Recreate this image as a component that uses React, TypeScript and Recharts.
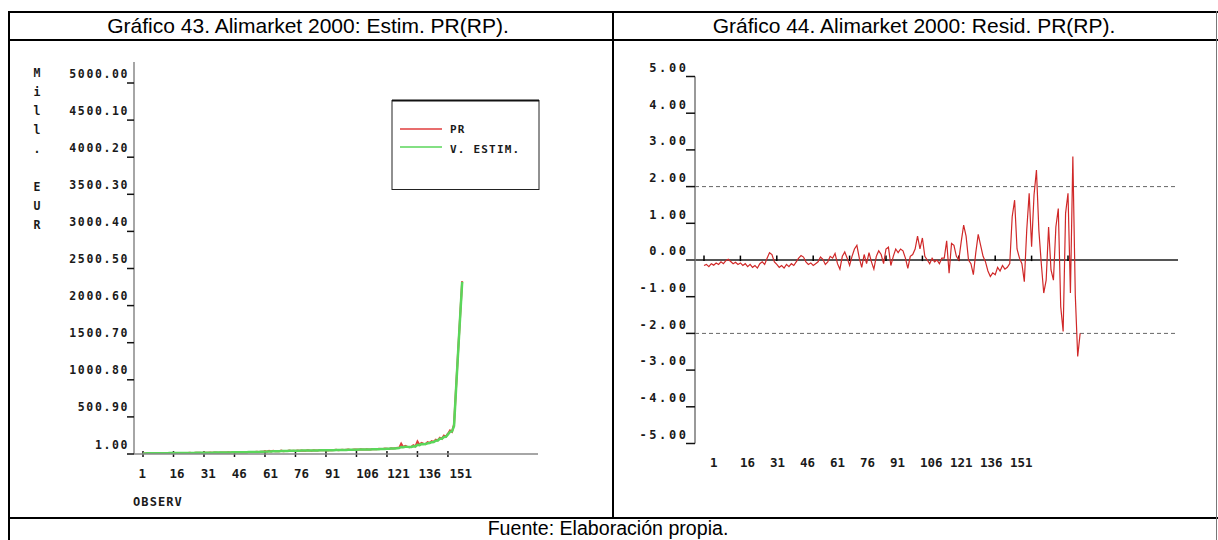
import React from 'react';
import { LineChart, Line, XAxis, YAxis, ReferenceLine, Legend } from 'recharts';

const MONO = '"DejaVu Sans Mono", "Liberation Mono", monospace';
const SANS = '"Liberation Sans", Arial, sans-serif';

const leftTitle = 'Gráfico 43. Alimarket 2000: Estim. PR(RP).';
const rightTitle = 'Gráfico 44. Alimarket 2000: Resid. PR(RP).';
const footer = 'Fuente: Elaboración propia.';
const yTitleLetters = ['M', 'i', 'l', 'l', '.', '', 'E', 'U', 'R'];
const xTitle = 'OBSERV';

const obsTicks = [1, 16, 31, 46, 61, 76, 91, 106, 121, 136, 151];
const leftYTicks = [1.0, 500.9, 1000.8, 1500.7, 2000.6, 2500.5, 3000.4, 3500.3, 4000.2, 4500.1, 5000.0];
const rightYTicks = [5, 4, 3, 2, 1, 0, -1, -2, -3, -4, -5];
const seriesNames = ['PR', 'V. ESTIM.'];

const PR = [
  8, 9, 10, 9, 11, 10, 12, 11, 10, 12, 13, 12, 11, 13, 14,
  13, 14, 15, 14, 16, 15, 14, 16, 17, 16, 15, 17, 18, 17, 16,
  18, 19, 18, 20, 19, 21, 20, 19, 22, 21, 20, 22, 23, 22, 24,
  23, 25, 24, 26, 25, 27, 26, 28, 27, 29, 28, 30, 29, 31, 30,
  42, 33, 45, 35, 44, 37, 40, 38, 46, 39, 42, 41, 48, 43, 45,
  42, 47, 44, 49, 46, 44, 50, 47, 46, 52, 48, 47, 53, 50, 51,
  52, 49, 55, 51, 54, 57, 53, 55, 58, 54, 57, 60, 56, 58, 62,
  60, 57, 64, 61, 60, 66, 63, 62, 68, 64, 66, 71, 68, 70, 74,
  73, 70, 78, 75, 77, 85, 82, 140, 95, 110, 100, 92, 98, 120, 105,
  170, 125, 150, 140, 135, 160, 150, 175, 165, 195, 185, 220, 205, 250, 235,
  275, 320, 300, 400, 900, 1380, 1860, 2330,
];

const EST = [
  9, 9, 10, 10, 10, 11, 11, 11, 11, 12, 12, 12, 12, 13, 13,
  13, 14, 14, 14, 15, 15, 15, 16, 16, 16, 16, 17, 17, 17, 17,
  18, 18, 19, 19, 19, 20, 20, 20, 21, 21, 21, 22, 22, 22, 23,
  23, 24, 24, 25, 25, 26, 26, 27, 27, 28, 28, 29, 29, 30, 30,
  33, 34, 36, 36, 38, 38, 39, 39, 41, 41, 42, 42, 44, 44, 45,
  45, 46, 46, 47, 47, 47, 48, 48, 48, 49, 49, 49, 50, 50, 51,
  51, 52, 52, 53, 53, 54, 54, 55, 55, 56, 56, 57, 57, 58, 59,
  59, 60, 60, 61, 61, 62, 63, 63, 64, 65, 65, 66, 67, 68, 70,
  71, 72, 74, 75, 76, 78, 80, 95, 92, 98, 97, 94, 96, 105, 103,
  125, 120, 135, 133, 135, 145, 148, 160, 162, 180, 182, 205, 205, 230, 232,
  265, 300, 305, 380, 880, 1370, 1850, 2320,
];

const RESID = [
  -0.15, -0.12, -0.18, -0.1, -0.14, -0.08, -0.12, -0.05, -0.1, -0.02, 0.02, -0.04, -0.1, -0.06, -0.12, -0.08, -0.15, -0.1, -0.18, -0.12,
  -0.2, -0.15, -0.22, -0.1, -0.05, -0.12, 0.05, 0.2, 0.15, -0.05, -0.12, -0.2, -0.15, -0.22, -0.12, -0.18, -0.1, -0.15, -0.05, 0.05,
  0.12, 0.08, -0.05, -0.12, -0.08, -0.15, -0.1, -0.05, 0.08, 0.02, -0.12, -0.05, 0.1, 0.05, 0.18, -0.1, -0.25, 0.1, 0.22, 0.05,
  -0.15, 0.1, 0.3, 0.4, 0.05, -0.2, 0.15, -0.1, 0.2, -0.05, -0.25, 0.1, 0.25, 0.15, -0.1, 0.3, 0.35, -0.15, 0.1, 0.3,
  0.2, 0.3, 0.25, 0.05, -0.23, 0.1, 0.15, 0.3, 0.65, 0.3, 0.6, 0.1, 0.0, -0.1, 0.05, -0.05, 0.0, -0.1, 0.05,
  0.05, 0.52, -0.36, 0.45, 0.4, 0.1, 0.0, 0.5, 0.95, 0.65, 0.0, -0.1, -0.4, 0.2, 0.7, 0.4, 0.1, -0.05,
  -0.3, -0.45, -0.35, -0.4, -0.2, -0.3, -0.15, -0.25, -0.2, -0.1,
  1.18, 1.63, 0.3, 0.05, -0.1, -0.59, 0.82, 1.82, 0.36, 1.77, 2.45, 0.8, -0.1, -0.9, -0.55, 0.9, -0.27, -0.55, 0.9, 1.4,
  -1.27, -1.95, 1.27, 1.82, -0.9, 2.82, -0.95, -2.63, -2.0,
];

const leftData = PR.map((v, i) => ({ obs: i + 1, pr: v, est: EST[i] }));
const rightData = RESID.map((v, i) => ({ obs: i + 1, res: v }));

const TXT = '#1a1a1a';

const LeftYTick = (props: any) => {
  const { x, y, payload } = props;
  return (
    <g>
      <line x1={x - 7} x2={x} y1={y} y2={y} stroke="#111" strokeWidth={1.5} />
      <text x={x - 5} y={y - 5.5} textAnchor="end" fontFamily={MONO} fontWeight="bold" fontSize={11.5} letterSpacing={1.6} fill={TXT}>
        {Number(payload.value).toFixed(2)}
      </text>
    </g>
  );
};

const LeftXTick = (props: any) => {
  const { x, y, payload } = props;
  return (
    <text x={x} y={y + 24} textAnchor="start" fontFamily={MONO} fontWeight="bold" fontSize={12.5} fill={TXT}>
      {String(payload.value)}
    </text>
  );
};

const RightYTick = (props: any) => {
  const { x, y, payload } = props;
  const v = Number(payload.value);
  return (
    <g>
      <line x1={x - 9} x2={x} y1={y} y2={y} stroke={v === 0 ? '#555' : '#111'} strokeWidth={v === 0 ? 2 : 1.5} />
      <text x={x - 6.4} y={y - 4.7} textAnchor="end" fontFamily={MONO} fontWeight="bold" fontSize={12} letterSpacing={2.6} fill={TXT}>
        {v.toFixed(2)}
      </text>
    </g>
  );
};

const RightXTick = (props: any) => {
  const { x, y, payload } = props;
  return (
    <text x={x} y={y + 23} textAnchor="start" fontFamily={MONO} fontWeight="bold" fontSize={12.5} fill={TXT}>
      {String(payload.value)}
    </text>
  );
};

const YTitle = (props: any) => {
  const vb = props.viewBox || { x: 74, y: 62 };
  return (
    <g>
      {yTitleLetters.map((ch, i) => (
        <text key={i} x={vb.x - 37} y={vb.y + 15.3 + i * 18.9} textAnchor="middle" fontFamily={MONO} fontWeight="bold" fontSize={11.5} fill={TXT}>
          {ch}
        </text>
      ))}
    </g>
  );
};

const LegendBox = (props: any) => {
  const payload = props.payload || [];
  return (
    <svg width={150} height={92} style={{ display: 'block' }}>
      <rect x={1} y={1.5} width={147} height={89} fill="#fff" stroke="#222" strokeWidth={1} />
      <line x1={1} x2={148} y1={1.5} y2={1.5} stroke="#111" strokeWidth={2} />
      {payload.map((p: any, i: number) => (
        <g key={i}>
          <line x1={9} x2={51} y1={30 + i * 18} y2={30 + i * 18} stroke={p.color} strokeWidth={1.5} />
          <text x={59} y={34.3 + i * 19.2} fontFamily={MONO} fontWeight="bold" fontSize={11} letterSpacing={1.2} fill={TXT}>
            {p.value}
          </text>
        </g>
      ))}
    </svg>
  );
};

export default function App() {
  return (
    <div style={{ position: 'absolute', left: 0, top: 0, width: 1218, height: 540, background: '#fff', overflow: 'hidden' }}>
      <svg width={1218} height={540} style={{ position: 'absolute', left: 0, top: 0 }}>
        <line x1={8} x2={1218} y1={12} y2={12} stroke="#000" strokeWidth={2} />
        <line x1={8} x2={1218} y1={40} y2={40} stroke="#000" strokeWidth={2} />
        <line x1={8} x2={1218} y1={518} y2={518} stroke="#000" strokeWidth={2} />
        <line x1={9} x2={9} y1={11} y2={540} stroke="#000" strokeWidth={2} />
        <line x1={613} x2={613} y1={11} y2={518} stroke="#000" strokeWidth={2} />
        <line x1={1216.5} x2={1216.5} y1={11} y2={540} stroke="#777" strokeWidth={1} />
        <text x={308} y={33} textAnchor="middle" fontFamily={SANS} fontSize={21} fill="#000">{leftTitle}</text>
        <text x={914} y={33} textAnchor="middle" fontFamily={SANS} fontSize={21} fill="#000">{rightTitle}</text>
        <text x={608} y={535} textAnchor="middle" fontFamily={SANS} fontSize={19.6} fill="#000">{footer}</text>
        <text x={133} y={506} textAnchor="start" fontFamily={MONO} fontWeight="bold" fontSize={12} letterSpacing={1.1} fill={TXT}>{xTitle}</text>
      </svg>

      <div style={{ position: 'absolute', left: 0, top: 0 }}>
        <LineChart width={613} height={518} data={leftData} margin={{ top: 62, right: 75, bottom: 44, left: 74 }}>
          <XAxis
            xAxisId="lbl"
            dataKey="obs"
            type="number"
            domain={[-1.17, 193.69]}
            allowDataOverflow
            ticks={obsTicks}
            interval={0}
            tick={<LeftXTick />}
            tickSize={0}
            tickMargin={0}
            tickLine={false}
            axisLine={{ stroke: '#888', strokeWidth: 1.5 }}
            height={20}
          />
          <XAxis xAxisId="d" dataKey="obs" type="number" domain={[-3.43, 195.3]} allowDataOverflow hide height={0} />
          <YAxis
            yAxisId="y"
            type="number"
            domain={[1, 5283]}
            allowDataOverflow
            ticks={leftYTicks}
            interval={0}
            tick={<LeftYTick />}
            tickSize={0}
            tickMargin={0}
            tickLine={false}
            axisLine={{ stroke: '#888', strokeWidth: 1.5 }}
            width={60}
            label={{ content: (p: any) => <YTitle {...p} /> }}
          />
          {obsTicks.map((t) => (
            <ReferenceLine key={'lt' + t} xAxisId="d" yAxisId="y" segment={[{ x: t, y: -39 }, { x: t, y: 41 }]} stroke="#111" strokeWidth={1.5} ifOverflow="visible" />
          ))}
          <Line xAxisId="d" yAxisId="y" type="linear" dataKey="pr" name={seriesNames[0]} stroke="#e03c3c" strokeWidth={2} dot={false} isAnimationActive={false} />
          <Line xAxisId="d" yAxisId="y" type="linear" dataKey="est" name={seriesNames[1]} stroke="#5ad65a" strokeWidth={2.5} dot={false} isAnimationActive={false} />
          <Legend
            layout="horizontal"
            verticalAlign="middle"
            align="center"
            wrapperStyle={{ position: 'absolute', left: 391, top: 99, width: 150, height: 92, margin: 0, padding: 0 }}
            content={(p: any) => <LegendBox {...p} />}
          />
        </LineChart>
      </div>

      <div style={{ position: 'absolute', left: 613, top: 0 }}>
        <LineChart width={605} height={518} data={rightData} margin={{ top: 76.5, right: 40, bottom: 44.5, left: 22 }}>
          <XAxis
            xAxisId="lbl"
            dataKey="obs"
            type="number"
            domain={[-6.5, 235]}
            allowDataOverflow
            ticks={obsTicks}
            interval={0}
            tick={<RightXTick />}
            tickSize={0}
            tickMargin={0}
            tickLine={false}
            axisLine={false}
            height={30}
          />
          <XAxis xAxisId="d" dataKey="obs" type="number" domain={[-2.71, 196.33]} allowDataOverflow hide height={0} />
          <YAxis
            yAxisId="y"
            type="number"
            domain={[-5, 5]}
            allowDataOverflow
            ticks={rightYTicks}
            interval={0}
            tick={<RightYTick />}
            tickSize={0}
            tickMargin={0}
            tickLine={false}
            axisLine={{ stroke: '#777', strokeWidth: 1.5 }}
            width={60}
          />
          <ReferenceLine xAxisId="d" yAxisId="y" y={2} stroke="#666" strokeWidth={1} strokeDasharray="4 3" />
          <ReferenceLine xAxisId="d" yAxisId="y" y={-2} stroke="#666" strokeWidth={1} strokeDasharray="4 3" />
          <ReferenceLine xAxisId="d" yAxisId="y" y={0} stroke="#555" strokeWidth={2} />
          {obsTicks.map((t) => (
            <ReferenceLine key={'rt' + t} xAxisId="d" yAxisId="y" segment={[{ x: t, y: -0.03 }, { x: t, y: 0.12 }]} stroke="#000" strokeWidth={1.5} ifOverflow="visible" />
          ))}
          <Line xAxisId="d" yAxisId="y" type="linear" dataKey="res" stroke="#d02828" strokeWidth={1.2} dot={false} isAnimationActive={false} />
        </LineChart>
      </div>
    </div>
  );
}
